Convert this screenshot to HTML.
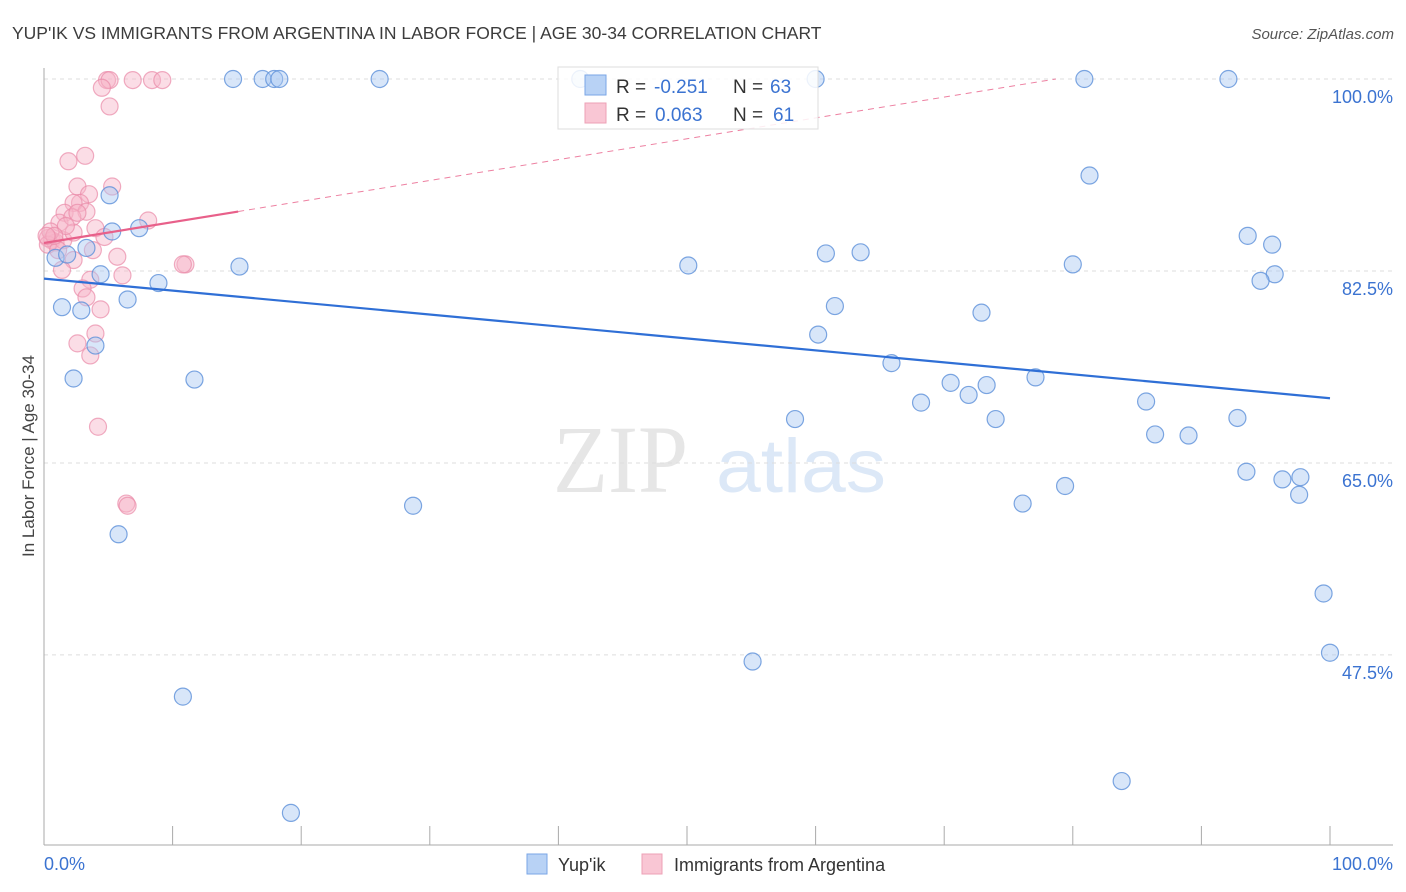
<!DOCTYPE html>
<html><head><meta charset="utf-8">
<style>
body{margin:0;background:#fff;font-family:"Liberation Sans",sans-serif;}
svg{display:block}
</style></head>
<body>
<svg id="chart" width="1406" height="892" xmlns="http://www.w3.org/2000/svg">
<text x="12" y="39" font-size="17.5" fill="#3c3c3c" font-family="Liberation Sans, sans-serif">YUP'IK VS IMMIGRANTS FROM ARGENTINA IN LABOR FORCE | AGE 30-34 CORRELATION CHART</text>
<text x="1394" y="39" font-size="15" fill="#555" font-style="italic" text-anchor="end">Source: ZipAtlas.com</text>
<g>
<text x="553" y="492" font-size="96" font-family="Liberation Serif, serif" fill="#e6e6e6" textLength="135" lengthAdjust="spacingAndGlyphs">ZIP</text>
<text x="716" y="492" font-size="76" font-family="Liberation Sans, sans-serif" fill="#dce8f7" textLength="170" lengthAdjust="spacingAndGlyphs">atlas</text>
</g>
<g id="grid"></g>
<g id="axes"></g>
<g id="marks"></g>
<text transform="translate(34,456) rotate(-90)" font-size="17" fill="#444" text-anchor="middle">In Labor Force | Age 30-34</text>
<g>
<rect x="558" y="67" width="260" height="62" fill="#fff" fill-opacity="0.85" stroke="#ddd"/>
<rect x="585" y="75" width="21" height="20" fill="#b8d2f5" stroke="#7aa6e6"/>
<rect x="585" y="103" width="21" height="20" fill="#f9c6d4" stroke="#eda0b6"/>
<text x="616" y="93" font-size="19" fill="#333">R =</text>
<text x="654" y="93" font-size="19" fill="#3b73d1">-0.251</text>
<text x="733" y="93" font-size="19" fill="#333">N =</text>
<text x="770" y="93" font-size="19" fill="#3b73d1">63</text>
<text x="616" y="121" font-size="19" fill="#333">R =</text>
<text x="655" y="121" font-size="19" fill="#3b73d1">0.063</text>
<text x="733" y="121" font-size="19" fill="#333">N =</text>
<text x="773" y="121" font-size="19" fill="#3b73d1">61</text>
</g>
<g>
<rect x="527" y="854" width="20" height="20" fill="#b8d2f5" stroke="#7aa6e6"/>
<text x="558" y="871" font-size="18" fill="#333">Yup'ik</text>
<rect x="642" y="854" width="20" height="20" fill="#f9c6d4" stroke="#eda0b6"/>
<text x="674" y="871" font-size="18" fill="#333">Immigrants from Argentina</text>
</g>
</svg>
<script>
const yTicks=[100,82.5,65,47.5];
const yTickLabels=["100.0%","82.5%","65.0%","47.5%"];
const xTickCount=10;
const blueX=[14.7,17.0,17.9,18.3,26.1,41.7,60.0,80.9,92.1,81.3,5.1,5.3,7.4,3.3,0.9,1.8,15.2,50.1,60.8,63.5,80.0,93.6,95.5,95.7,94.6,4.4,8.9,6.5,1.4,2.9,61.5,72.9,60.2,4.0,2.3,11.7,65.9,70.5,73.3,71.9,77.1,68.2,58.4,74.0,85.7,86.4,89.0,92.8,93.5,96.3,97.7,97.6,28.7,76.1,79.4,5.8,99.5,100,55.1,10.8,83.8,19.2];
const blueY=[100,100,100,100,100,100,100,100,100,91.2,89.4,86.1,86.4,84.6,83.7,84.0,82.9,83.0,84.1,84.2,83.1,85.7,84.9,82.2,81.6,82.2,81.4,79.9,79.2,78.9,79.3,78.7,76.7,75.7,72.7,72.6,74.1,72.3,72.1,71.2,72.8,70.5,69.0,69.0,70.6,67.6,67.5,69.1,64.2,63.5,63.7,62.1,61.1,61.3,62.9,58.5,53.1,47.7,46.9,43.7,36.0,33.1];
const pinkX=[4.9,5.1,4.5,6.9,8.4,9.2,5.1,1.9,3.2,2.6,3.5,5.3,2.8,2.3,1.6,3.3,8.1,1.2,2.2,2.6,4.0,4.7,0.6,0.9,0.3,0.3,1.5,2.3,3.8,2.3,1.4,5.7,6.1,11.0,3.6,3.0,3.3,4.4,4.0,2.6,3.6,4.2,6.4,6.5,0.5,1.1,1.7,10.8,0.8,0.2];
const pinkY=[99.9,99.9,99.2,99.9,99.9,99.9,97.5,92.5,93.0,90.2,89.5,90.2,88.7,88.7,87.8,87.9,87.1,86.9,87.4,87.8,86.4,85.6,85.3,85.1,85.5,84.9,85.3,86.0,84.4,83.5,82.6,83.8,82.1,83.1,81.7,80.9,80.1,79.0,76.8,75.9,74.8,68.3,61.3,61.1,86.1,84.4,86.6,83.1,85.7,85.7];
const blueTrend=[81.8,70.9];
const pinkTrend=[85.05,0.19];
const NS="http://www.w3.org/2000/svg";
const X0=44,X1=1330,Y100=79,PXPER=10.97;
function sx(v){return X0+(X1-X0)*v/100;}
function sy(v){return Y100+(100-v)*PXPER;}
function mk(tag,attrs,parent){const e=document.createElementNS(NS,tag);for(const k in attrs)e.setAttribute(k,attrs[k]);parent.appendChild(e);return e;}
const grid=document.getElementById('grid'),axes=document.getElementById('axes'),marks=document.getElementById('marks');
yTicks.forEach((t,i)=>{
 const l=mk('line',{x1:44,x2:1393,y1:sy(t),y2:sy(t),stroke:'#ddd','stroke-dasharray':'4,4'},grid);
 
 
 const tx=mk('text',{x:1393,y:sy(t)+24,'font-size':18,fill:'#3b73d1','text-anchor':'end'},axes);
 tx.textContent=yTickLabels[i];
 
 
});
let a=mk('line',{x1:44,x2:44,y1:68,y2:845,stroke:'#aaa'},axes);


a=mk('line',{x1:44,x2:1393,y1:845,y2:845,stroke:'#aaa'},axes);


for(let i=0;i<=xTickCount;i++){
 const t=mk('line',{x1:sx(i*100/xTickCount),x2:sx(i*100/xTickCount),y1:826,y2:845,stroke:'#aaa'},axes);
 
 
}
let xl=mk('text',{x:44,y:870,'font-size':18,fill:'#3b73d1'},axes);xl.textContent='0.0%';


xl=mk('text',{x:1393,y:870,'font-size':18,fill:'#3b73d1','text-anchor':'end'},axes);xl.textContent='100.0%';


pinkX.forEach((x,i)=>{
 const c=mk('circle',{cx:sx(x),cy:sy(pinkY[i]),r:8.5,fill:'#f6b3c7','fill-opacity':0.45,stroke:'#e98aa8','stroke-opacity':0.7,'stroke-width':1.2},marks);
 
 
});
blueX.forEach((x,i)=>{
 const c=mk('circle',{cx:sx(x),cy:sy(blueY[i]),r:8.5,fill:'#a9c8f1','fill-opacity':0.45,stroke:'#5d90da','stroke-opacity':0.8,'stroke-width':1.2},marks);
 
 
});
let tl=mk('line',{x1:sx(0),y1:sy(blueTrend[0]),x2:sx(100),y2:sy(blueTrend[1]),stroke:'#2f6fd6','stroke-width':2.2},marks);


const pEnd=(100-pinkTrend[0])/pinkTrend[1];
tl=mk('line',{x1:sx(0),y1:sy(pinkTrend[0]),x2:sx(15.1),y2:sy(pinkTrend[0]+pinkTrend[1]*15.1),stroke:'#e8608a','stroke-width':2.2},marks);


tl=mk('line',{x1:sx(15.1),y1:sy(pinkTrend[0]+pinkTrend[1]*15.1),x2:sx(pEnd),y2:sy(100),stroke:'#e8608a','stroke-width':1,'stroke-dasharray':'6,5','stroke-opacity':0.8},marks);


</script>
</body></html>
